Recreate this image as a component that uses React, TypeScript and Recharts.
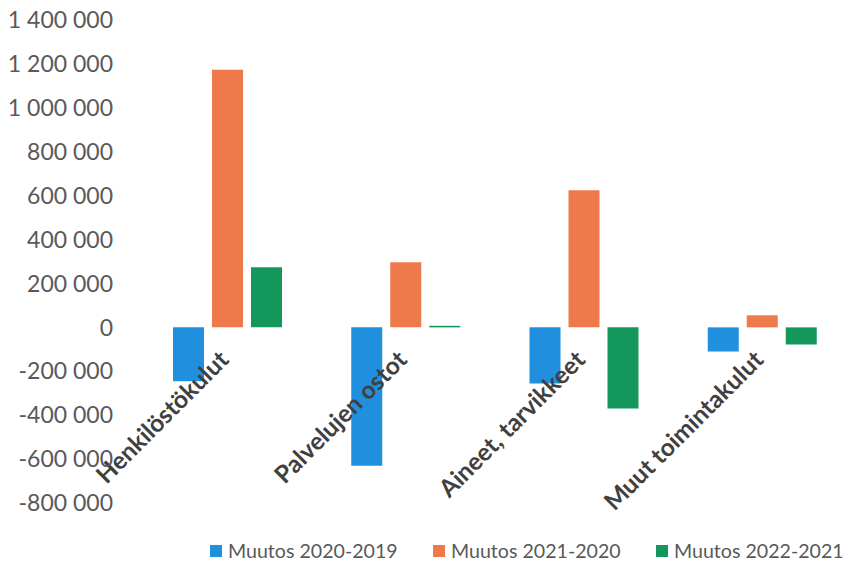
import React from 'react';
import { BarChart, Bar, XAxis, YAxis, Legend } from 'recharts';

const categories = ['Henkilöstökulut', 'Palvelujen ostot', 'Aineet, tarvikkeet', 'Muut toimintakulut'];
const muutos2020_2019 = [-245000, -630000, -256000, -110000];
const muutos2021_2020 = [1173000, 297000, 625000, 55000];
const muutos2022_2021 = [274000, 7000, -370000, -78000];
const yTicks = [-800000, -600000, -400000, -200000, 0, 200000, 400000, 600000, 800000, 1000000, 1200000, 1400000];
const seriesNames = ['Muutos 2020-2019', 'Muutos 2021-2020', 'Muutos 2022-2021'];
const seriesColors = ['#1F8FDE', '#EE7A4B', '#14975A'];

const data = categories.map((c, i) => ({
  name: c,
  s1: muutos2020_2019[i],
  s2: muutos2021_2020[i],
  s3: muutos2022_2021[i],
}));

const CHART_W = 852;
const CHART_H = 564;
const M_TOP = 20;
const M_BOTTOM = 31;
const X_AXIS_H = 30;
const Y_MIN = -800000;
const Y_MAX = 1400000;
const PLOT_H = CHART_H - M_TOP - M_BOTTOM - X_AXIS_H;
const ZERO_Y = M_TOP + (PLOT_H * (Y_MAX - 0)) / (Y_MAX - Y_MIN);

const FONT = 'Lato, "Open Sans", sans-serif';

const fmt = (v: number) => {
  const s = Math.abs(v).toString().replace(/\B(?=(\d{3})+(?!\d))/g, ' ');
  return (v < 0 ? '-' : '') + s;
};

const CatTick = (props: any) => {
  const { x, payload } = props;
  const ax = x + 3;
  const ay = ZERO_Y + 34;
  return (
    <text
      x={ax}
      y={ay}
      transform={`rotate(-45, ${ax}, ${ay})`}
      textAnchor="end"
      fontFamily={FONT}
      fontWeight="bold"
      fontSize={24.5}
      fill="#404040"
    >
      {payload.value}
    </text>
  );
};

const LegendContent = () => (
  <div style={{ display: 'flex', paddingLeft: 210, width: 900, fontFamily: FONT, fontSize: 19.6, color: '#595959' }}>
    {seriesNames.map((n, i) => (
      <div key={n} style={{ display: 'flex', alignItems: 'center', width: 223, flexShrink: 0, whiteSpace: 'nowrap' }}>
        <span style={{ display: 'inline-block', width: 12, height: 12, background: seriesColors[i], marginRight: 6, flexShrink: 0 }} />
        <span>{n}</span>
      </div>
    ))}
  </div>
);

export default function App() {
  return (
    <div style={{ position: 'absolute', left: 0, top: 0, width: 846, height: 564, overflow: 'hidden', background: '#fff' }}>
      <BarChart
        width={CHART_W}
        height={CHART_H}
        data={data}
        margin={{ top: M_TOP, right: 1, bottom: M_BOTTOM, left: 0 }}
        barSize={31}
        barGap={8}
      >
        <XAxis
          dataKey="name"
          height={X_AXIS_H}
          axisLine={false}
          tickLine={false}
          interval={0}
          tick={<CatTick />}
        />
        <YAxis
          width={138}
          domain={[Y_MIN, Y_MAX]}
          ticks={yTicks}
          interval={0}
          axisLine={false}
          tickLine={false}
          tickSize={0}
          tickMargin={25}
          tickFormatter={fmt}
          tick={{ fontFamily: FONT, fontSize: 23, fill: '#595959' }}
        />
        <Legend
          verticalAlign="middle"
          align="center"
          layout="horizontal"
          wrapperStyle={{ top: 539, left: 0, width: 900 }}
          content={<LegendContent />}
        />
        <Bar dataKey="s1" name={seriesNames[0]} fill={seriesColors[0]} isAnimationActive={false} />
        <Bar dataKey="s2" name={seriesNames[1]} fill={seriesColors[1]} isAnimationActive={false} />
        <Bar dataKey="s3" name={seriesNames[2]} fill={seriesColors[2]} isAnimationActive={false} />
      </BarChart>
    </div>
  );
}
